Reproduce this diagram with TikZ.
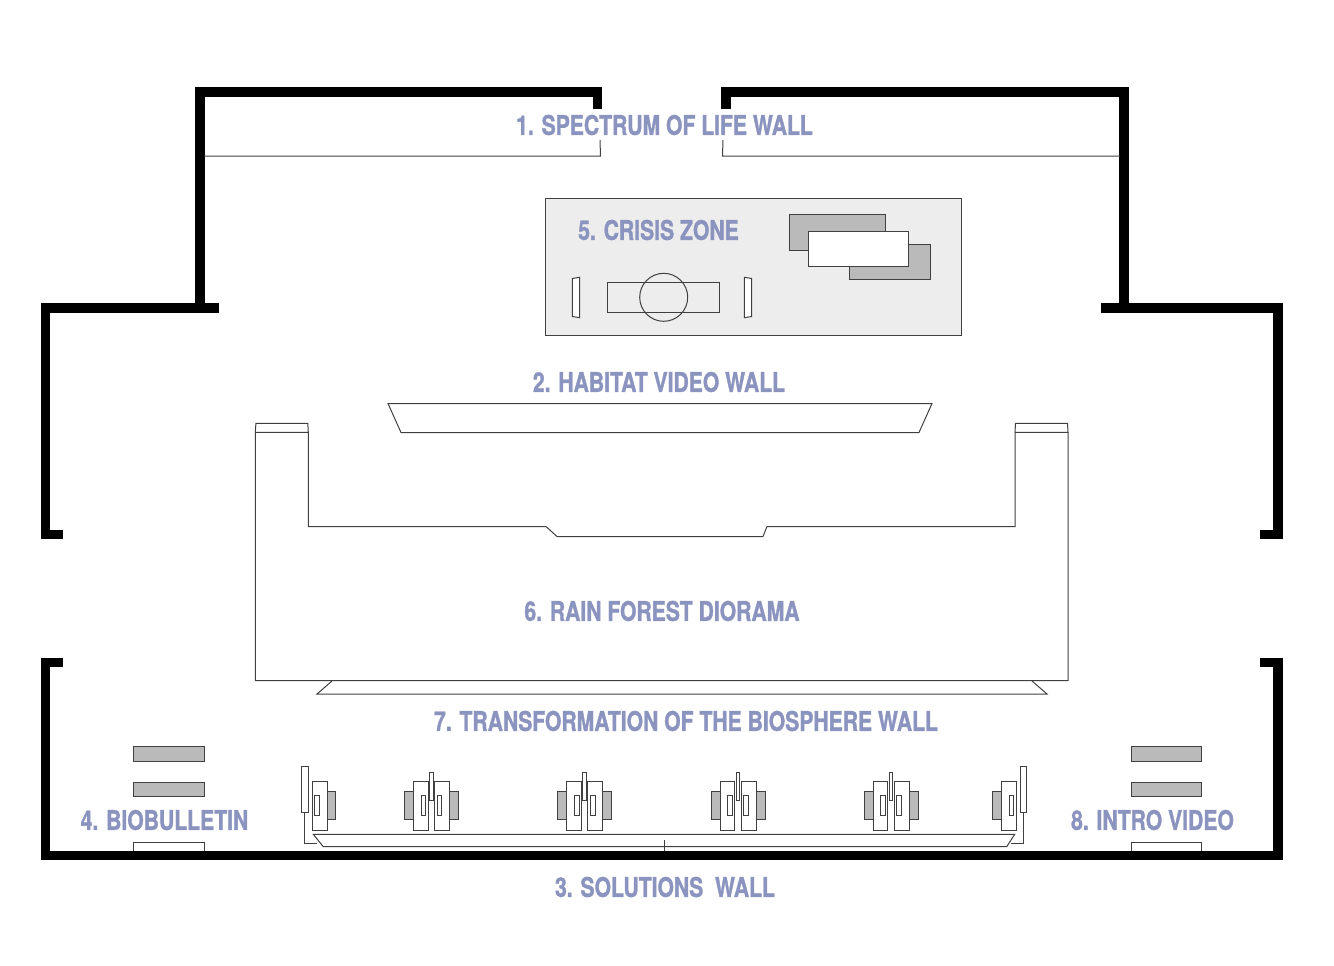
\documentclass[tikz,border=0pt]{standalone}
\usepackage{fontspec}
\newfontfamily\labelfont[FakeStretch=0.783,FakeBold=1.2]{texgyreheros-bold.otf}
\usepackage{tikz}
\definecolor{labelblue}{rgb}{0.545,0.576,0.749}
\definecolor{panelgray}{rgb}{0.93,0.93,0.93}
\definecolor{blockgray}{rgb}{0.73,0.73,0.73}
\definecolor{thinline}{rgb}{0.25,0.25,0.25}
\tikzset{
  wall/.style={line width=9.5pt,color=black,line join=miter},
  thin/.style={line width=1pt,color=thinline},
  block/.style={thin,fill=blockgray},
  blank/.style={thin,fill=white},
  roomlabel/.style={color=labelblue,font=\labelfont\fontsize{27}{27}\selectfont,inner sep=0pt}
}
\begin{document}
\begin{tikzpicture}[x=1pt,y=-1pt]
\useasboundingbox (0,0) rectangle (1334,966);
% outer walls
\draw [wall] (597.5,109) -- (597.5,92) -- (200,92) -- (200,308);
\draw [wall] (219,308) -- (45.5,308) -- (45.5,534.5) -- (62.5,534.5);
\draw [wall] (726,109) -- (726,92) -- (1124,92) -- (1124,308);
\draw [wall] (1101,308) -- (1278,308) -- (1278,534.5) -- (1260,534.5);
\draw [wall] (62.5,662.5) -- (45.5,662.5) -- (45.5,855.5) -- (1278,855.5) -- (1278,662.5) -- (1260,662.5);
% spectrum wall
\draw [thin] (204,156) -- (600.5,156) -- (600,140);
\draw [thin] (1120,156) -- (722.5,156) -- (723,140);
% crisis zone
\draw [thin,fill=panelgray] (545.5,198.5) rectangle (961.5,335.5);
\draw [block] (849.7,244) rectangle (930,279.7);
\draw [block] (789,214) rectangle (885.7,250);
\draw [blank] (808,231) rectangle (908.7,266.7);
\draw [thin] (607.3,282.7) rectangle (719.7,312.3);
\draw [thin] (663.7,297.3) circle (24);
\draw [blank] (572.3,278.5) -- (579.7,277.3) -- (579.7,317.7) -- (572.3,316.5) -- cycle;
\draw [blank] (744.3,277.3) -- (751.7,278.5) -- (751.7,316.5) -- (744.3,317.7) -- cycle;
% habitat wall
\draw [thin] (388,403.5) -- (932,403.5) -- (919,432.5) -- (401,432.5) -- cycle;
% diorama
\draw [thin] (255.3,432.3) -- (255.3,680.5) -- (1068,680.5) -- (1068,432.3) -- (1015,432.3) -- (1015,526.5) -- (767,526.5) -- (763,536.5) -- (557,536.5) -- (546,526.5) -- (308.3,526.5) -- (308.3,432.3) -- cycle;
\draw [thin] (255.3,432.3) -- (255.9,423.3) -- (307.8,423.3) -- (308.3,432.3);
\draw [thin] (1015,432.3) -- (1015.5,423.3) -- (1067.5,423.3) -- (1068,432.3);
\draw [thin] (332,681) -- (317,694) -- (1047,694) -- (1032,681);
% biobulletin, intro video
\foreach \x in {133.5,1131} {
  \draw [block] (\x,746.7) rectangle ++(70.5,14.6);
  \draw [block] (\x,782.3) rectangle ++(70.5,14);
  \draw [blank] (\x,850.5) -- (\x,842) -- ++(70.5,0) -- ++(0,8.5);
}
% solutions wall
\draw [thin] (313.3,834.3) -- (1014.7,834.3) -- (1006.7,846.7) -- (323.3,846.7) -- cycle;
\draw [thin] (304.7,812) -- (304.7,843) -- (317,843);
\draw [thin] (1023.3,812) -- (1023.3,843) -- (1010.7,843);
\draw [thin] (664,840) -- (664,851);
\draw [blank] (301.3,766.7) rectangle (308,812);
\draw [blank] (1020,766.7) rectangle (1026.3,812);
\draw [block] (327,791.3) rectangle (335.7,819.7);
\draw [blank] (312.3,781.3) rectangle (327,830.3);
\draw [blank] (314.3,795.3) rectangle (319.7,815.7);
\draw [block] (992.3,791.3) rectangle (1001.3,819.7);
\draw [blank] (1001.3,781.3) rectangle (1016,830.3);
\draw [blank] (1009,795.3) rectangle (1013.7,815.7);
\foreach \x in {431.3,584.6,738,891} {
  \draw [block] (\x-27,791.3) rectangle (\x-18,819.7);
  \draw [block] (\x+18,791.3) rectangle (\x+27,819.7);
  \draw [blank] (\x-18,781.3) rectangle (\x-3.3,830.3);
  \draw [blank] (\x+3.3,781.3) rectangle (\x+18,830.3);
  \draw [blank] (\x-10.3,795.3) rectangle (\x-5.6,815.7);
  \draw [blank] (\x+5.9,795.3) rectangle (\x+10.6,815.7);
  \draw [blank] (\x-1.7,772.3) rectangle (\x+1.7,800.3);
}
% labels
\node [roomlabel] (spectrum) at (664.5,125) {1. SPECTRUM OF LIFE WALL};
\node [roomlabel] (crisis) at (658.5,230) {5. CRISIS ZONE};
\node [roomlabel] (habitat) at (659,382) {2. HABITAT VIDEO WALL};
\node [roomlabel] (diorama) at (662,611) {6. RAIN FOREST DIORAMA};
\node [roomlabel] (transformation) at (686,721) {7. TRANSFORMATION OF THE BIOSPHERE WALL};
\node [roomlabel] (biobulletin) at (164.5,820) {4. BIOBULLETIN};
\node [roomlabel] (introvideo) at (1152.5,820) {8. INTRO VIDEO};
\node [roomlabel] (solutions) at (665,887) {3. SOLUTIONS\ \ WALL};
\end{tikzpicture}
\end{document}
